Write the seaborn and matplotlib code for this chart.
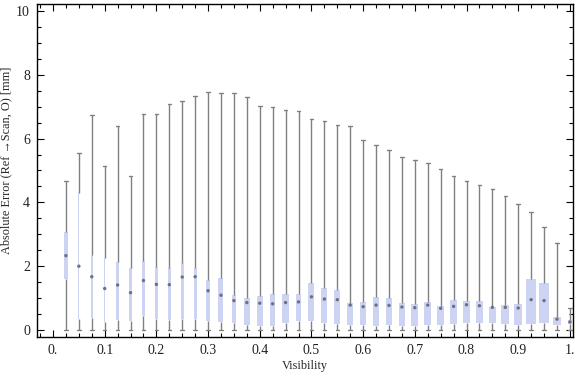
import numpy as np
import pandas as pd
import matplotlib
matplotlib.use("Agg")
import matplotlib.pyplot as plt
from matplotlib.ticker import MultipleLocator, FixedLocator
import seaborn as sns

# Visibility bins (box centres)
visibility = [0.025 * k for k in range(1, 41)]

# five-number summaries (mm)
whisker_low = [0.0] * 40
q1 = [1.59, 0.34, 0.39, 0.25, 0.30, 0.29, 0.45, 0.34, 0.31, 0.34,
      0.34, 0.28, 0.25, 0.23, 0.17, 0.13, 0.13, 0.23, 0.29, 0.29,
      0.23, 0.20, 0.17, 0.17, 0.13, 0.17, 0.13, 0.13, 0.17, 0.17,
      0.20, 0.23, 0.23, 0.23, 0.20, 0.17, 0.20, 0.23, 0.17, 0.19]
median = [2.33, 2.00, 1.67, 1.30, 1.41, 1.17, 1.55, 1.43, 1.42, 1.66,
          1.67, 1.23, 1.09, 0.92, 0.86, 0.84, 0.82, 0.86, 0.88, 1.04,
          0.97, 0.95, 0.78, 0.73, 0.78, 0.77, 0.72, 0.70, 0.78, 0.68,
          0.74, 0.79, 0.76, 0.71, 0.71, 0.69, 0.95, 0.92, 0.34, 0.25]
q3 = [3.07, 4.28, 2.35, 2.27, 2.13, 1.94, 2.16, 1.97, 1.94, 2.10,
      1.94, 1.57, 1.63, 1.10, 1.00, 1.07, 1.13, 1.13, 1.13, 1.47,
      1.32, 1.25, 0.85, 0.88, 1.03, 1.00, 0.85, 0.82, 0.88, 0.75,
      0.94, 0.91, 0.91, 0.72, 0.78, 0.82, 1.60, 1.47, 0.41, 0.31]
whisker_high = [4.66, 5.56, 6.74, 5.14, 6.40, 4.83, 6.77, 6.77, 7.08, 7.18,
                7.33, 7.45, 7.42, 7.42, 7.30, 7.02, 6.98, 6.89, 6.86, 6.60,
                6.54, 6.42, 6.38, 5.95, 5.79, 5.63, 5.41, 5.32, 5.22, 5.04,
                4.82, 4.66, 4.54, 4.41, 4.19, 3.94, 3.69, 3.22, 2.72, 0.68]

# box widths in pixels as seen in the picture
box_px = [3.3, 1.3, 1.7, 1.3, 2.3, 3.0, 3.0, 3.0, 3.0, 3.3,
          3.0, 4.3, 5.0, 4.7, 6.0, 6.0, 5.3, 6.5, 5.7, 6.0,
          6.0, 6.0, 6.0, 6.0, 6.0, 6.0, 6.0, 7.0, 7.0, 7.0,
          7.0, 7.0, 7.0, 7.7, 8.0, 8.0, 10.3, 10.0, 8.0, 4.0]

x_ticks = [0.0, 0.1, 0.2, 0.3, 0.4, 0.5, 0.6, 0.7, 0.8, 0.9, 1.0]
x_ticklabels = ["0.", "0.1", "0.2", "0.3", "0.4", "0.5", "0.6", "0.7", "0.8", "0.9", "1."]

sns.set_style("ticks")
plt.rcParams["font.family"] = ["Liberation Serif", "DejaVu Serif"]

fig = plt.figure(figsize=(5.76, 3.77), dpi=100)
ax = fig.add_axes([0.0642, 0.1061, 0.9306, 0.8833])

px_per_unit = 517.0  # pixels per 1.0 of visibility
box_color = "#cdd3f3"
line_color = "#808080"

for i, v in enumerate(visibility):
    vals = [whisker_low[i], q1[i], median[i], q3[i], whisker_high[i]]
    sns.boxplot(x=[v] * 5, y=vals, native_scale=True, orient="x",
                width=box_px[i] / px_per_unit, whis=(0, 100),
                color=box_color, saturation=1, linecolor=line_color,
                linewidth=1.0, boxprops={"edgecolor": "none"},
                medianprops={"visible": False},
                capwidths=3.5 / px_per_unit, ax=ax)

med_df = pd.DataFrame({"visibility": visibility, "median": median})
sns.scatterplot(data=med_df, x="visibility", y="median", marker="o", s=6,
                color="#70707e", edgecolor="none", ax=ax, zorder=5)

ax.set_xlim(-0.031, 1.006)
ax.set_ylim(-0.22, 10.22)
ax.xaxis.set_major_locator(FixedLocator(x_ticks))
ax.set_xticklabels(x_ticklabels)
ax.xaxis.set_minor_locator(MultipleLocator(0.025))
ax.yaxis.set_major_locator(MultipleLocator(2))
ax.yaxis.set_minor_locator(MultipleLocator(0.5))

ax.tick_params(which="both", direction="in", top=True, right=True,
               color="black", width=0.8, labelsize=10, labelcolor="#222222")
ax.tick_params(which="major", length=5, pad=5)
ax.tick_params(which="minor", length=3)
for s in ax.spines.values():
    s.set_color("black")
    s.set_linewidth(1.0)

ax.set_xlabel("Visibility", fontsize=8.8)
ax.xaxis.set_label_coords(0.5, -0.068)
ax.set_ylabel("Absolute Error (Ref \u2192Scan, O) [mm]", fontsize=8.8)
ax.yaxis.set_label_coords(-0.046, 0.53)

fig.savefig("out.png", dpi=100)
